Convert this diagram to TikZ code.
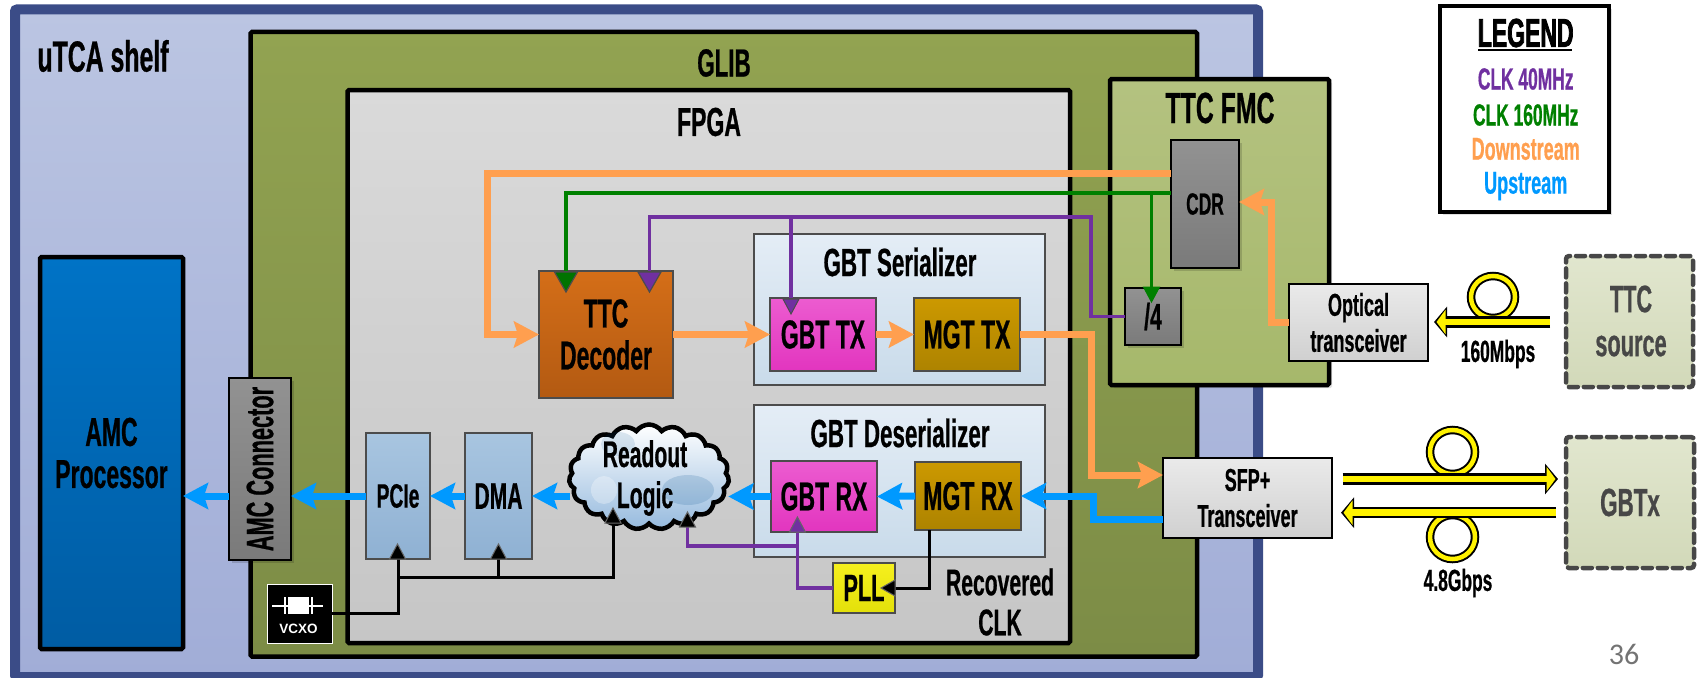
\documentclass[tikz,border=0pt]{standalone}
\usepackage{fontspec}
\setmainfont{Liberation Sans}[FakeStretch=0.57,FakeBold=0.6,Scale=1.09]
\newfontfamily\heavy{Liberation Sans}[FakeStretch=0.57,FakeBold=1.8,Scale=1.09]
\newfontfamily\plainsans{Liberation Sans}
\newfontfamily\pagefont{Carlito}
\usetikzlibrary{arrows.meta,shapes.symbols,shadows,calc}
\definecolor{borderblue}{HTML}{3B4C87}
\definecolor{orangeline}{HTML}{FF9F4F}
\definecolor{blueline}{HTML}{0099FF}
\definecolor{greenline}{HTML}{008000}
\definecolor{purpleline}{HTML}{7030A0}
\newcommand\ft[2]{\fontsize{#1}{#2}\selectfont\bfseries}
\newcommand\bx[7]{%
  \pgfmathsetmacro\bxcx{(#2+#4)/2}\pgfmathsetmacro\bxcy{(#3+#5)/2}%
  \pgfmathsetmacro\bxw{#4-#2}\pgfmathsetmacro\bxh{#5-#3}%
  \node[#6,minimum width=\bxw pt,minimum height=\bxh pt] (#1) at (\bxcx,\bxcy) {#7};}
\newcommand\clkdown[4]{\filldraw[fill=#3,draw=#4,line width=1pt] (#1-8,#2)--(#1+8,#2)--(#1,#2+15)--cycle;}
\newcommand\clkbig[4]{\filldraw[fill=#3,draw=#4,line width=1.2pt] (#1-11.5,#2)--(#1+11.5,#2)--(#1,#2+20)--cycle;}
\newcommand\clkup[4]{\filldraw[fill=#3,draw=#4,line width=1pt] (#1-8,#2)--(#1+8,#2)--(#1,#2-15)--cycle;}
\tikzset{
  base/.style={rectangle,inner sep=0pt,outer sep=0pt,align=center},
  frame/.style={base,draw=black,line width=4.5pt,rounded corners=1.5pt},
  thin/.style={base,draw=black!70,line width=1.5pt},
  shelfbox/.style={base,draw=borderblue,line width=10pt,rounded corners=2pt,top color={rgb,255:red,187;green,197;blue,226},bottom color={rgb,255:red,161;green,173;blue,215}},
  glibbox/.style={frame,top color={rgb,255:red,146;green,163;blue,81},bottom color={rgb,255:red,124;green,140;blue,70}},
  fpgabox/.style={frame,top color={rgb,255:red,218;green,218;blue,218},bottom color={rgb,255:red,198;green,198;blue,198}},
  fmcbox/.style={frame,top color={rgb,255:red,180;green,194;blue,128},bottom color={rgb,255:red,166;green,184;blue,107},drop shadow={shadow xshift=3pt,shadow yshift=-3pt,opacity=.12,fill=black}},
  procbox/.style={frame,top color={rgb,255:red,0;green,115;blue,198},bottom color={rgb,255:red,0;green,92;blue,163}},
  greybox/.style={base,draw=black,line width=2.5pt,top color={rgb,255:red,146;green,146;blue,146},bottom color={rgb,255:red,122;green,122;blue,122},drop shadow={shadow xshift=3pt,shadow yshift=-3pt,opacity=.15,fill=black}},
  bluebox/.style={thin,top color={rgb,255:red,168;green,197;blue,224},bottom color={rgb,255:red,143;green,177;blue,211}},
  serbox/.style={thin,top color={rgb,255:red,228;green,237;blue,246},bottom color={rgb,255:red,201;green,219;blue,234}},
  ttcbox/.style={thin,top color={rgb,255:red,212;green,110;blue,24},bottom color={rgb,255:red,179;green,90;blue,18}},
  gbtbox/.style={thin,top color={rgb,255:red,236;green,92;blue,208},bottom color={rgb,255:red,226;green,53;blue,191}},
  mgtbox/.style={thin,top color={rgb,255:red,204;green,153;blue,0},bottom color={rgb,255:red,173;green,131;blue,0}},
  pllbox/.style={thin,top color={rgb,255:red,246;green,240;blue,30},bottom color={rgb,255:red,227;green,224;blue,10}},
  silverbox/.style={base,draw=black,line width=2.5pt,top color={rgb,255:red,234;green,234;blue,234},bottom color={rgb,255:red,208;green,208;blue,208}},
  sourcebox/.style={base,draw=black!72,line width=4.5pt,dash pattern=on 9pt off 6pt,line cap=round,rounded corners=3pt,top color={rgb,255:red,225;green,230;blue,206},bottom color={rgb,255:red,210;green,217;blue,185}},
  legendbox/.style={base,draw=black,line width=4pt,fill=white,drop shadow={shadow xshift=3pt,shadow yshift=-3pt,opacity=.12,fill=black}},
  vcxobox/.style={base,draw=white,line width=1pt,fill=black},
  lbl/.style={inner sep=0pt,outer sep=0pt,align=center},
  orangearrow/.style={draw=orangeline,line width=7pt,-{Stealth[length=25pt,width=26pt,inset=4pt]}},
  bluearrow/.style={draw=blueline,line width=7pt,-{Stealth[length=25pt,width=26pt,inset=4pt]}},
  greenwire/.style={draw=greenline,line width=3.5pt},
  purplewire/.style={draw=purpleline,line width=3.2pt},
  blackwire/.style={draw=black,line width=3pt},
  ringout/.style={draw=black,line width=8.5pt},
  ringin/.style={draw=yellow,line width=4.5pt},
  fibout/.style={draw=black,line width=11.5pt,-{Triangle[length=13pt,width=30pt]}},
  fibin/.style={draw=yellow,line width=6.5pt,-{Triangle[length=9pt,width=24pt]}},
}
\begin{document}
\begin{tikzpicture}[x=1pt,y=-1pt]
\useasboundingbox (0,0) rectangle (1699,677);
% frames
\bx{shelf}{15}{9.5}{1258}{677}{shelfbox}{}
\bx{proc}{40}{257}{183}{649}{procbox,font=\ft{37}{42}}{AMC\\Processor}
\bx{glib}{250.5}{32}{1197}{656.5}{glibbox}{}
\bx{fpga}{347.5}{90}{1070}{643}{fpgabox}{}
\bx{fmc}{1110}{79}{1329}{385}{fmcbox}{}
\node[lbl] (shelflabel) at (103,56) {\ft{40}{44}uTCA shelf};
\node[lbl] (gliblabel) at (724,63) {\ft{36}{42}GLIB};
\node[lbl] (fpgalabel) at (709,122) {\ft{37}{42}FPGA};
\node[lbl] (fmclabel) at (1220,108) {\ft{40}{46}TTC FMC};
% blocks
\bx{conn}{229}{378}{291}{560}{greybox}{\rotatebox{90}{\ft{35}{40}AMC Connector}}
\bx{pcie}{366}{433}{430}{559}{bluebox}{\ft{31}{36}PCIe}
\bx{dma}{465}{433}{532}{559}{bluebox}{\ft{34}{38}DMA}
\bx{ser}{754}{234}{1045}{385}{serbox}{}
\bx{des}{754}{405}{1045}{557}{serbox}{}
\node[lbl] (serlabel) at (900,262) {\ft{36}{40}GBT Serializer};
\node[lbl] (deslabel) at (900,433) {\ft{36}{40}GBT Deserializer};
\bx{ttc}{539}{271}{673}{398}{ttcbox,font=\ft{37}{42}}{TTC\\Decoder}
\bx{gbttx}{770}{298}{876}{371}{gbtbox}{\ft{37}{40}GBT TX}
\bx{mgttx}{914}{298}{1020}{371}{mgtbox}{\ft{37}{40}MGT TX}
\bx{gbtrx}{771}{461}{877}{532}{gbtbox}{\ft{37}{40}GBT RX}
\bx{mgtrx}{915}{462}{1021}{530}{mgtbox}{\ft{37}{40}MGT RX}
\bx{pll}{833}{563}{895}{613}{pllbox}{\ft{35}{38}PLL}
\bx{cdr}{1171}{140}{1239}{268}{greybox}{\ft{28}{32}CDR}
\bx{divfour}{1125}{288}{1181}{345}{greybox}{\ft{34}{38}/4}
\bx{vcxo}{267}{584}{332}{643}{vcxobox}{}
% wire way points
\coordinate (orangecorner) at (487.6,173);
\coordinate (greencorner) at (566,193);
\coordinate (greenbranch) at (1151.5,193);
\coordinate (purplecorner) at (649.5,217);
\coordinate (purplebranch) at (791,217);
\coordinate (purplefour) at (1091,217);
\coordinate (clockbus) at (613,577);
\coordinate (desclk) at (797.4,546);
\coordinate (cloudclkb) at (687.5,546);
\coordinate (pllwire) at (797.4,588);
\coordinate (orangedown) at (1091.6,475);
\coordinate (bluedown) at (1093.6,519);
\coordinate (opticalup) at (1271.5,322);
\coordinate (cdrin) at (1271.5,202);
% SFP
\bx{sfp}{1163}{458}{1332}{538}{silverbox,font=\ft{29}{36}}{SFP+\\Transceiver}
% wires
\draw[greenwire] (cdr.west |- greencorner) -- (greencorner) -- (greencorner |- ttc.north);
\draw[greenwire] (greenbranch) -- (greenbranch |- divfour.north);
\draw[purplewire] (divfour.west) -| (purplefour) -- (purplecorner) -- (purplecorner |- ttc.north);
\draw[purplewire] (purplebranch) -- (purplebranch |- gbttx.north);
\clkbig{566}{272}{greenline!90!black}{black!70}
\clkbig{649.5}{272}{purpleline}{black!70}
\clkdown{791}{299}{purpleline}{black!70}
\clkdown{1151.5}{287}{greenline}{greenline}
\draw[orangearrow] (cdr.west |- orangecorner) -- (orangecorner) |- (ttc.west);
\draw[orangearrow] (ttc.east) -- (gbttx.west);
\draw[orangearrow] (gbttx.east) -- (mgttx.west);
\draw[orangearrow] (mgttx.east) -| (orangedown) -- (sfp.west |- orangedown);
\draw[bluearrow] (sfp.west |- bluedown) -- (bluedown) |- (mgtrx.east);
\draw[bluearrow] (mgtrx.west) -- (gbtrx.east);
\draw[bluearrow] (conn.west |- pcie.west) -- (proc.east |- pcie.west);
\draw[bluearrow] (pcie.west) -- (conn.east |- pcie.west);
\draw[bluearrow] (dma.west) -- (pcie.east);
\node[cloud,cloud puffs=19,cloud puff arc=110,aspect=1.5,inner sep=0pt,outer sep=0pt,minimum width=160pt,minimum height=105pt,draw=none] (cloudref) at (649,477) {};
\draw[bluearrow] (gbtrx.west) -- (gbtrx.west -| cloudref.east);
\draw[bluearrow] (dma.east -| cloudref.west) -- (dma.east);
% cloud
\node[cloud,cloud puffs=19,cloud puff arc=110,aspect=1.5,inner sep=0pt,outer sep=0pt,minimum width=160pt,minimum height=105pt,draw=black,line width=4.5pt,top color=white,bottom color={rgb,255:red,150;green,186;blue,222}] (cloud) at (649,477) {};
\fill[blue!45!cyan!55!black,opacity=.12] (618,444) ellipse (17 and 12);
\fill[blue!45!cyan!55!black,opacity=.16] (688,490) ellipse (26 and 15);
\fill[white,opacity=.3] (604,490) ellipse (13 and 14);
\node[lbl] (cloudtext) at (645,478) [font=\ft{34}{41}] {Readout\\Logic};
% clock wires
\draw[blackwire] (vcxo.east) -| (pcie.south);
\draw[blackwire] (pcie.south |- clockbus) -- (clockbus) -- (clockbus |- cloud.south);
\draw[blackwire] (dma.south) -- (dma.south |- clockbus);
\clkup{397.5}{559}{black}{black!60}
\clkup{498.5}{559}{black}{black!60}
\clkup{613}{523}{black}{black!60}
\draw[purplewire] (pll.west) -- (pllwire) -- (pllwire |- gbtrx.south);
\draw[purplewire] (desclk) -- (cloudclkb) -- (cloudclkb |- cloud.south);
\clkup{797.4}{532}{purpleline}{black!60}
\clkup{687.5}{527}{black}{black!60}
\draw[blackwire] (929,530) |- (pll.east);
\filldraw[fill=black,draw=black!60,line width=1pt] (895,580)--(895,596)--(881,588)--cycle;
\node[lbl] (recovered) at (1000,602) [font=\ft{34}{40}] {Recovered\\CLK};
% VCXO symbol
\draw[white,line width=2pt] (272,606) -- (323,606);
\fill[white] (288,597) rectangle (309,614);
\fill[white] (284,597) rectangle (286,614);
\fill[white] (311,597) rectangle (313,614);
\node[lbl,text=white] (vcxotext) at (298.5,629) {\plainsans\fontsize{13.5}{15}\selectfont\bfseries VCXO};
% optical
\bx{optical}{1289}{284}{1428}{361}{silverbox,font=\ft{29}{36}}{Optical\\transceiver}
\draw[orangearrow] (optical.west |- opticalup) -- (opticalup) -- (cdrin) -- (cdr.east |- cdrin);
% legend
\bx{legend}{1440}{6}{1609}{212}{legendbox}{}
\node[lbl] (legendtitle) at (1525.7,33) {\heavy\fontsize{37}{42}\selectfont\bfseries LEGEND};
\coordinate (ulstart) at (1478,50);
\coordinate (ulend) at (1572,50);
\draw[black,line width=1.6pt] (ulstart) -- (ulend);
\node[lbl,text=purpleline] (lega) at (1525.7,79) {\ft{28}{32}CLK 40MHz};
\node[lbl,text=greenline] (legb) at (1525.7,115) {\ft{28}{32}CLK 160MHz};
\node[lbl,text=orangeline] (legc) at (1525.7,149) {\ft{29}{32}Downstream};
\node[lbl,text=blueline] (legd) at (1525.7,186) {\ft{29}{32}Upstream};
% sources
\bx{ttcsrc}{1566}{256}{1693}{387}{sourcebox}{}
\node[lbl,text=black!72] (ttcsrctext) at (1631,321) [font=\ft{35}{44}] {TTC\\source};
\bx{gbtx}{1566}{437}{1694}{568}{sourcebox}{\ft{36}{40}\textcolor{black!72}{GBTx}}
% fibres
\coordinate (fa) at (1550,322); \coordinate (fb) at (1434,322);
\coordinate (fc) at (1342.5,479); \coordinate (fd) at (1558,479);
\coordinate (fe) at (1556,512.7); \coordinate (ff) at (1341,512.7);
\draw[ringout] (1493,297) ellipse (22 and 21);
\draw[ringin] (1493,297) ellipse (22 and 21);
\draw[ringout] (1452.5,452) ellipse (22.5 and 22);
\draw[ringin] (1452.5,452) ellipse (22.5 and 22);
\draw[ringout] (1452.5,537) ellipse (22.5 and 22);
\draw[ringin] (1452.5,537) ellipse (22.5 and 22);
\draw[fibout] (fa) -- (fb);
\draw[fibin] (fa) -- ($(fb)+(2.5,0)$);
\draw[fibout] (fc) -- (fd);
\draw[fibin] (fc) -- ($(fd)+(-2.5,0)$);
\draw[fibout] (fe) -- (ff);
\draw[fibin] (fe) -- ($(ff)+(2.5,0)$);
\node[lbl] (ratea) at (1498,354) {\ft{28}{32}160Mbps};
\node[lbl] (rateb) at (1458,583) {\ft{28}{32}4.8Gbps};
\node[lbl,text=black!55] (pagenum) at (1624,654) {\pagefont\fontsize{30}{34}\selectfont 36};
\end{tikzpicture}
\end{document}
